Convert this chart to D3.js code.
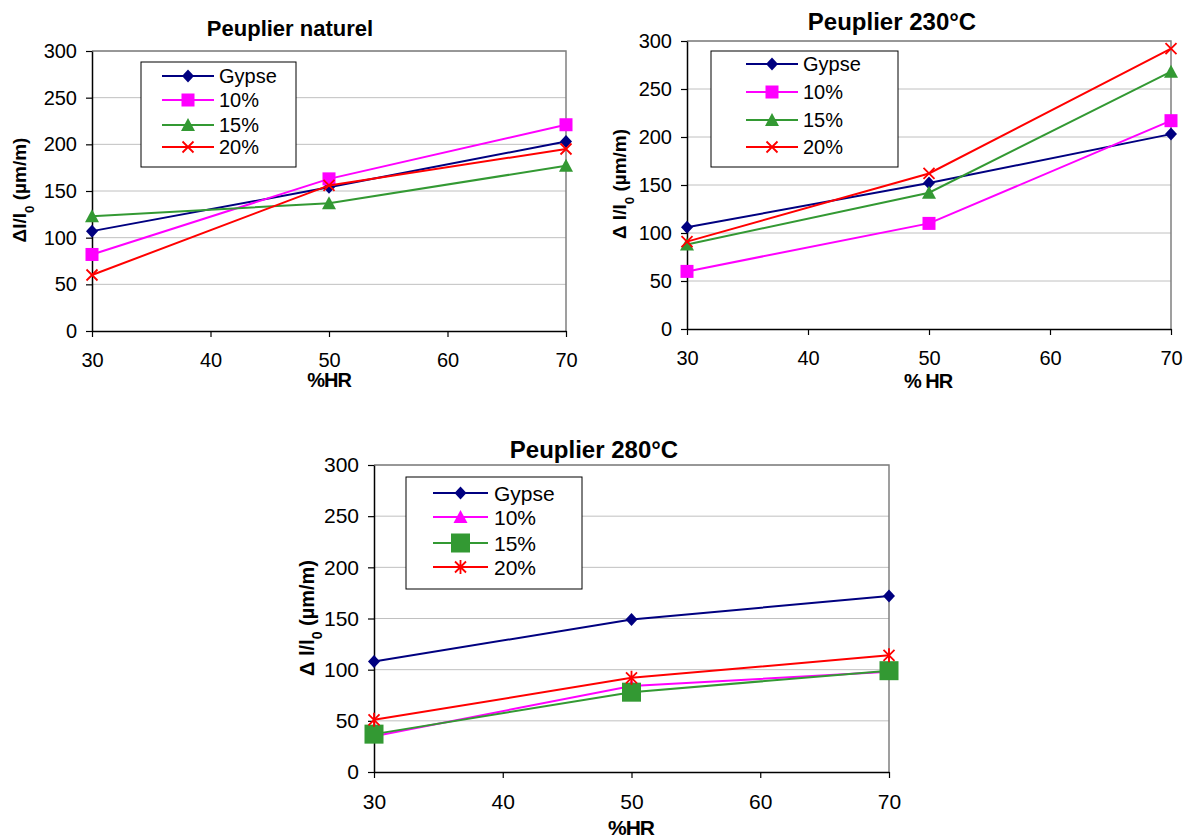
<!DOCTYPE html>
<html><head><meta charset="utf-8">
<script src="https://cdn.jsdelivr.net/npm/d3@7"></script>
<style>
body{margin:0;background:#fff}
svg text{font-family:"Liberation Sans",Arial,sans-serif;fill:#000}
</style>
</head><body>
<svg id="chart" width="1189" height="839"></svg>
<script>
// ---- data ----
const humidity = [30, 50, 70];
const xTickValues = [30, 40, 50, 60, 70];
const yTickValues = [0, 50, 100, 150, 200, 250, 300];
const seriesNames = ["Gypse", "10%", "15%", "20%"];
const titles = ["Peuplier naturel", "Peuplier 230°C", "Peuplier 280°C"];
const xTitles = ["%HR", "% HR", "%HR"];

const naturelGypse = [107, 154, 203];
const naturel10 = [82, 163, 221];
const naturel15 = [123, 137, 177];
const naturel20 = [60, 156, 195];

const t230Gypse = [106, 152, 203];
const t230p10 = [60, 110, 217];
const t230p15 = [88, 142, 268];
const t230p20 = [91, 162, 292];

const t280Gypse = [108, 149, 172];
const t280p10 = [35, 84, 98];
const t280p15 = [37, 78, 99];
const t280p20 = [51, 92, 114];

// ---- styles ----
const colors = ["#000080", "#FF00FF", "#339933", "#FF0000"];

const svg = d3.select("#chart");

function drawMarker(g, type, x, y, color) {
  if (type === "diamond") {
    g.append("path").attr("d", `M${x},${y-6.5}L${x+6},${y}L${x},${y+6.5}L${x-6},${y}Z`).attr("fill", color);
  } else if (type === "square") {
    g.append("rect").attr("x", x-6.5).attr("y", y-6.5).attr("width", 13).attr("height", 13).attr("fill", color);
  } else if (type === "bigsquare") {
    g.append("rect").attr("x", x-9.5).attr("y", y-9.5).attr("width", 19).attr("height", 19).attr("fill", color);
  } else if (type === "triangle") {
    g.append("path").attr("d", `M${x},${y-7}L${x+7},${y+6}L${x-7},${y+6}Z`).attr("fill", color);
  } else if (type === "x") {
    g.append("path").attr("d", `M${x-5.5},${y-5.5}L${x+5.5},${y+5.5}M${x+5.5},${y-5.5}L${x-5.5},${y+5.5}`)
      .attr("stroke", color).attr("stroke-width", 1.8).attr("fill", "none");
  } else if (type === "asterisk") {
    g.append("path").attr("d", `M${x-5.5},${y-5.5}L${x+5.5},${y+5.5}M${x+5.5},${y-5.5}L${x-5.5},${y+5.5}M${x},${y-7}L${x},${y+7}`)
      .attr("stroke", color).attr("stroke-width", 1.8).attr("fill", "none");
  }
}

const panels = [
  { title: titles[0], xTitle: xTitles[0], series: [naturelGypse, naturel10, naturel15, naturel20],
    markers: ["diamond", "square", "triangle", "x"],
    left: 92, right: 566, top: 51, bottom: 331,
    titleX: 290, titleY: 36, titleSize: 22,
    yLabelX: 26, yLabelY: 190, yLabelText: "Δl/l",
    xTitleX: 329, xTitleY: 387, font: 20,
    legend: { x: 141, y: 62, w: 155, h: 105, l1: 162, l2: 214, tx: 219, rows: [76, 100, 125, 147] } },
  { title: titles[1], xTitle: xTitles[1], series: [t230Gypse, t230p10, t230p15, t230p20],
    markers: ["diamond", "square", "triangle", "x"],
    left: 687, right: 1171, top: 41, bottom: 329,
    titleX: 892, titleY: 30, titleSize: 24,
    yLabelX: 626, yLabelY: 184, yLabelText: "Δ l/l",
    xTitleX: 928, xTitleY: 388, font: 20,
    legend: { x: 711, y: 51, w: 187, h: 116, l1: 746, l2: 798, tx: 803, rows: [64, 92, 120, 147] } },
  { title: titles[2], xTitle: xTitles[2], series: [t280Gypse, t280p10, t280p15, t280p20],
    markers: ["diamond", "triangle", "bigsquare", "asterisk"],
    left: 374, right: 889, top: 465, bottom: 772,
    titleX: 594, titleY: 458, titleSize: 24,
    yLabelX: 314, yLabelY: 618, yLabelText: "Δ l/l",
    xTitleX: 631, xTitleY: 835, font: 21,
    legend: { x: 406, y: 477, w: 176, h: 112, l1: 433, l2: 488, tx: 494, rows: [493, 517, 543, 567] } }
];

panels.forEach(p => {
  const g = svg.append("g");
  const x = d3.scaleLinear().domain([30, 70]).range([p.left, p.right]);
  const y = d3.scaleLinear().domain([0, 300]).range([p.bottom, p.top]);

  // gridlines
  g.append("g").selectAll("line").data(yTickValues.filter(v => v > 0)).join("line")
    .attr("x1", p.left).attr("x2", p.right)
    .attr("y1", d => y(d)).attr("y2", d => y(d))
    .attr("stroke", "#c0c0c0").attr("stroke-width", 1);
  // plot border top/right
  g.append("path").attr("d", `M${p.left},${p.top}H${p.right}V${p.bottom}`)
    .attr("fill", "none").attr("stroke", "#808080").attr("stroke-width", 1.5);

  // axes
  const yAxis = g.append("g").attr("transform", `translate(${p.left},0)`)
    .call(d3.axisLeft(y).tickValues(yTickValues).tickSize(6).tickPadding(9).tickSizeOuter(0));
  const xAxis = g.append("g").attr("transform", `translate(0,${p.bottom})`)
    .call(d3.axisBottom(x).tickValues(xTickValues).tickSize(6).tickPadding(16).tickSizeOuter(0));
  [yAxis, xAxis].forEach(a => {
    a.select(".domain").attr("stroke", "#000").attr("stroke-width", 1.5);
    a.selectAll(".tick line").attr("stroke", "#000").attr("stroke-width", 1.2);
    a.selectAll(".tick text").attr("font-size", p.font).attr("font-family", "Liberation Sans, Arial, sans-serif").attr("fill", "#000");
  });

  // series
  const line = d3.line().x((d, i) => x(humidity[i])).y(d => y(d));
  p.series.forEach((vals, si) => {
    const sg = g.append("g");
    sg.append("path").datum(vals).attr("d", line).attr("fill", "none")
      .attr("stroke", colors[si]).attr("stroke-width", 2);
    vals.forEach((v, i) => drawMarker(sg, p.markers[si], x(humidity[i]), y(v), colors[si]));
  });

  // legend
  const L = p.legend;
  const lg = g.append("g");
  lg.append("rect").attr("x", L.x).attr("y", L.y).attr("width", L.w).attr("height", L.h)
    .attr("fill", "#fff").attr("stroke", "#000").attr("stroke-width", 1);
  seriesNames.forEach((name, si) => {
    const ry = L.rows[si];
    lg.append("line").attr("x1", L.l1).attr("x2", L.l2).attr("y1", ry).attr("y2", ry)
      .attr("stroke", colors[si]).attr("stroke-width", 2);
    drawMarker(lg, p.markers[si], (L.l1 + L.l2) / 2, ry, colors[si]);
    lg.append("text").attr("x", L.tx).attr("y", ry).attr("dy", "0.36em")
      .attr("font-size", p.font).text(name);
  });

  // title
  g.append("text").attr("x", p.titleX).attr("y", p.titleY).attr("text-anchor", "middle")
    .attr("font-weight", "bold").attr("font-size", p.titleSize).text(p.title);
  // x title
  g.append("text").attr("x", p.xTitleX).attr("y", p.xTitleY).attr("text-anchor", "middle")
    .attr("font-weight", "bold").attr("font-size", p.font).attr("letter-spacing", -1).text(p.xTitle);
  // y title
  const yt = g.append("text")
    .attr("transform", `translate(${p.yLabelX},${p.yLabelY}) rotate(-90)`)
    .attr("text-anchor", "middle").attr("font-weight", "bold").attr("font-size", p.font - 1);
  yt.append("tspan").text(p.yLabelText);
  yt.append("tspan").attr("baseline-shift", "sub").attr("font-size", "70%").text("0");
  yt.append("tspan").text(" (µm/m)");
});
</script>
</body></html>
